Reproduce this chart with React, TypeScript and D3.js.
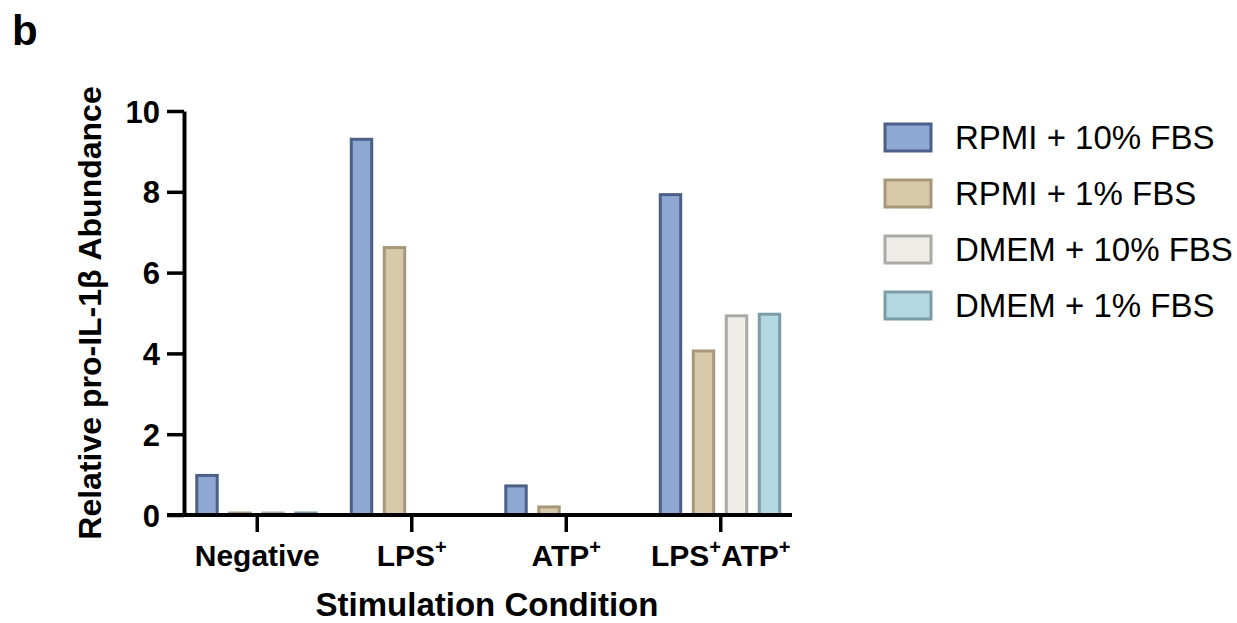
import * as d3 from "d3";
import React, { useEffect, useRef } from "react";

// categories and series
const categories = ["Negative", "LPS+", "ATP+", "LPS+ATP+"];
const seriesNames = ["RPMI + 10% FBS", "RPMI + 1% FBS", "DMEM + 10% FBS", "DMEM + 1% FBS"];
const rpmi10 = [0.98, 9.3, 0.72, 7.93];
const rpmi1 = [0.05, 6.62, 0.2, 4.06];
const dmem10 = [0.05, 0, 0, 4.93];
const dmem1 = [0.05, 0, 0, 4.97];
const yTicks = [0, 2, 4, 6, 8, 10];

const fills = ["#8fa7d3", "#d8c9aa", "#efede8", "#b4d8e2"];
const strokes = ["#4b5f88", "#a8987a", "#a9a9a6", "#7c9ca6"];

const FONT = "'Liberation Sans', Arial, Helvetica, sans-serif";

export default function App() {
  const svgRef = useRef<SVGSVGElement>(null);

  useEffect(() => {
    const svg = d3.select(svgRef.current);
    svg.selectAll("*").remove();

    const seriesValues = [rpmi10, rpmi1, dmem10, dmem1];

    // scales
    const x = d3.scaleBand().domain(categories).range([180, 798]).padding(0);
    const xInner = d3.scaleBand()
      .domain(seriesNames)
      .range([10.5, 142.5])
      .paddingInner(0.38)
      .paddingOuter(0.19);
    const y = d3.scaleLinear().domain([0, 10]).range([515, 111]);

    // bars
    categories.forEach((cat, ci) => {
      seriesNames.forEach((s, si) => {
        const v = seriesValues[si][ci];
        if (!v) return;
        svg.append("rect")
          .attr("x", x(cat)! + xInner(s)!)
          .attr("y", y(v))
          .attr("width", xInner.bandwidth())
          .attr("height", y(0) - y(v))
          .style("fill", fills[si])
          .style("stroke", strokes[si])
          .style("stroke-width", 3);
      });
    });

    // y axis
    const yAxis = svg.append("g")
      .attr("transform", "translate(184,0)")
      .call(d3.axisLeft(y).tickValues(yTicks).tickSize(17).tickSizeOuter(0).tickPadding(7));
    yAxis.select(".domain").attr("stroke", "#000").attr("stroke-width", 4);
    yAxis.selectAll(".tick line").attr("stroke", "#000").attr("stroke-width", 3.5);
    yAxis.selectAll(".tick text")
      .attr("fill", "#000")
      .style("font-family", FONT)
      .style("font-size", "31px")
      .style("font-weight", "bold")
      .attr("dy", "0.36em");

    // x axis line (extends left to the y tick marks)
    svg.append("line")
      .attr("x1", 167).attr("x2", 792)
      .attr("y1", y(0)).attr("y2", y(0))
      .attr("stroke", "#000").attr("stroke-width", 4);

    // x ticks + labels with superscript +
    categories.forEach((cat) => {
      const cx = x(cat)! + x.bandwidth() / 2;
      svg.append("line")
        .attr("x1", cx).attr("x2", cx)
        .attr("y1", y(0)).attr("y2", y(0) + 17)
        .attr("stroke", "#000").attr("stroke-width", 3.5);
      const t = svg.append("text")
        .attr("x", cx)
        .attr("y", 566)
        .attr("text-anchor", "middle")
        .style("font-family", FONT)
        .style("font-size", "30px")
        .style("font-weight", "bold");
      let shift = 0;
      cat.split(/(\+)/).filter((p) => p !== "").forEach((p) => {
        if (p === "+") {
          t.append("tspan").attr("dy", -12 - shift).style("font-size", "20px").text("+");
          shift = -12;
        } else {
          t.append("tspan").attr("dy", -shift).text(p);
          shift = 0;
        }
      });
    });

    // axis titles
    svg.append("text")
      .attr("x", 487)
      .attr("y", 616)
      .attr("text-anchor", "middle")
      .style("font-family", FONT)
      .style("font-size", "33px")
      .style("font-weight", "bold")
      .text("Stimulation Condition");

    svg.append("text")
      .attr("transform", "translate(101,313) rotate(-90)")
      .attr("text-anchor", "middle")
      .style("font-family", FONT)
      .style("font-size", "32px")
      .style("font-weight", "bold")
      .text("Relative pro-IL-1β Abundance");

    // panel letter
    svg.append("text")
      .attr("x", 12)
      .attr("y", 45)
      .style("font-family", FONT)
      .style("font-size", "42px")
      .style("font-weight", "bold")
      .text("b");

    // legend
    seriesNames.forEach((s, i) => {
      const yy = 124 + i * 56;
      svg.append("rect")
        .attr("x", 885).attr("y", yy)
        .attr("width", 46).attr("height", 27)
        .style("fill", fills[i])
        .style("stroke", strokes[i])
        .style("stroke-width", 3);
      svg.append("text")
        .attr("x", 955).attr("y", yy + 25)
        .style("font-family", FONT)
        .style("font-size", "33px")
        .text(s);
    });
  }, []);

  return (
    <svg
      ref={svgRef}
      width={1237}
      height={623}
      style={{ position: "absolute", left: 0, top: 0, background: "#fff" }}
    />
  );
}
